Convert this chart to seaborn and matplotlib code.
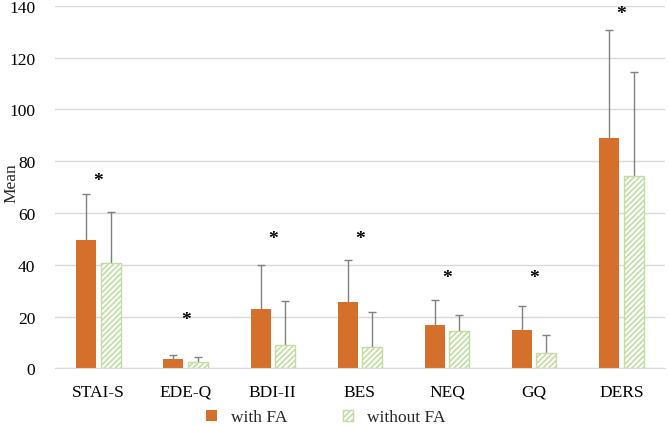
import pandas as pd
import seaborn as sns
import matplotlib.pyplot as plt
from matplotlib.patches import Patch

# data
scales = ["STAI-S", "EDE-Q", "BDI-II", "BES", "NEQ", "GQ", "DERS"]
groups = ["with FA", "without FA"]
mean_with = [49.5, 3.8, 22.9, 25.8, 16.9, 14.9, 89.0]
mean_without = [40.5, 2.5, 9.0, 8.4, 14.4, 6.1, 74.1]
sd_with = [17.7, 1.5, 17.0, 16.2, 9.6, 9.2, 41.7]
sd_without = [20.0, 1.7, 17.0, 13.2, 6.2, 6.9, 40.5]
star_y = [72.5, 19.0, 50.0, 50.0, 35.0, 35.0, 137.0]

orange = "#D5702C"
green = "#C3DCA0"

df = pd.DataFrame({
    "scale": scales * 2,
    "group": [groups[0]] * len(scales) + [groups[1]] * len(scales),
    "mean": mean_with + mean_without,
})

sns.set_style("white")
plt.rcParams["font.family"] = ["Liberation Serif", "DejaVu Serif"]
plt.rcParams["hatch.linewidth"] = 1.2

fig = plt.figure(figsize=(6.69, 4.27), dpi=100)
ax = fig.add_axes([0.082, 0.135, 0.912, 0.849])

sns.barplot(data=df, x="scale", y="mean", hue="group", order=scales,
            hue_order=groups, palette=[orange, "white"], saturation=1,
            width=0.56, gap=0.18, errorbar=None, legend=False, ax=ax)

# one-sided (upper) error bars, grey with a cap only on top
for cont, sds in zip(ax.containers, [sd_with, sd_without]):
    xs = [bar.get_x() + bar.get_width() / 2 for bar in cont]
    ys = [bar.get_height() for bar in cont]
    eb = ax.errorbar(xs, ys, yerr=[[0] * len(sds), sds], fmt="none",
                     ecolor="#808080", elinewidth=1, capsize=3, capthick=1,
                     zorder=1)
    eb[1][0].remove()  # drop the lower cap

for bar in ax.containers[1]:
    bar.set_facecolor("white")
    bar.set_edgecolor(green)
    bar.set_hatch("//////")
    bar.set_linewidth(1)
    bar.set_zorder(2)
for bar in ax.containers[0]:
    bar.set_edgecolor("none")
    bar.set_zorder(2)

for i, y in enumerate(star_y):
    ax.text(i, y, "*", ha="center", va="center", fontsize=14,
            fontweight="bold", color="black")

ax.set_ylim(0, 140)
ax.set_yticks(range(0, 141, 20))
ax.set_xlim(-0.5, len(scales) - 0.5)
ax.yaxis.grid(True, color="#D9D9D9", linewidth=1)
ax.set_axisbelow(True)
for s in ["top", "right", "left"]:
    ax.spines[s].set_visible(False)
ax.spines["bottom"].set_color("#D9D9D9")
ax.tick_params(axis="both", length=0, labelsize=12.5, colors="black")
ax.tick_params(axis="x", pad=11)
ax.tick_params(axis="y", pad=14)
ax.set_xlabel("")
ax.set_ylabel("Mean", fontsize=12.5)
ax.yaxis.set_label_coords(-0.058, 0.515)

handles = [Patch(facecolor=orange, edgecolor="none"),
           Patch(facecolor="white", edgecolor=green, hatch="//////")]
fig.legend(handles, groups, loc="center", bbox_to_anchor=(0.487, 0.02),
           ncol=2, frameon=False, fontsize=12.5, handlelength=0.6,
           handleheight=0.6, columnspacing=3.2, handletextpad=0.8)

fig.savefig("out.png", dpi=100)
